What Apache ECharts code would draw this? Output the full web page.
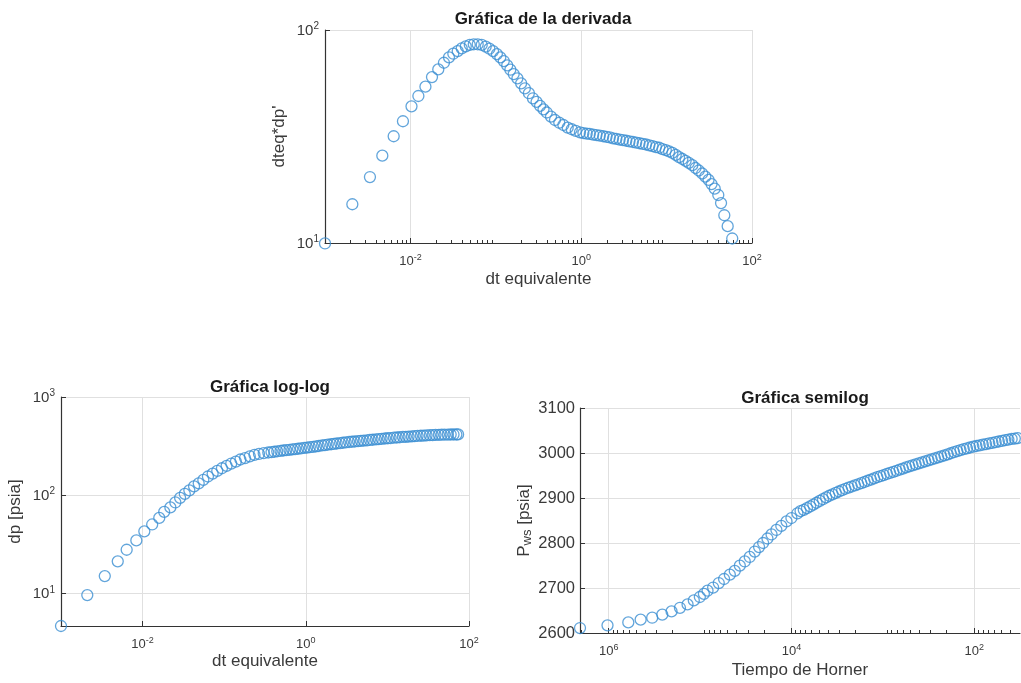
<!DOCTYPE html>
<html><head><meta charset="utf-8">
<script src="https://cdn.jsdelivr.net/npm/echarts@6/dist/echarts.min.js"></script>
<style>html,body{margin:0;padding:0;background:#fff}#c{width:1021px;height:683px}</style>
</head><body><div id="c"></div>
<script>
// ---- Gráfica de la derivada ----
const derivX = [0.00100, 0.00209, 0.00336, 0.00469, 0.00637, 0.00818, 0.0103, 0.0124, 0.0150, 0.0179, 0.0212, 0.0247, 0.0283, 0.0318, 0.0358, 0.0399, 0.0445, 0.0496, 0.0552, 0.0614, 0.0684, 0.0762, 0.0841, 0.0929, 0.103, 0.113, 0.124, 0.136, 0.148, 0.162, 0.179, 0.198, 0.219, 0.244, 0.272, 0.300, 0.330, 0.362, 0.395, 0.443, 0.493, 0.554, 0.618, 0.695, 0.774, 0.863, 0.968,
  1.06, 1.16, 1.26, 1.38, 1.51, 1.65, 1.81, 1.98, 2.16, 2.36, 2.58, 2.82, 3.08, 3.37, 3.68, 4.03, 4.40, 4.81, 5.25, 5.74, 6.28, 6.86, 7.50, 8.20, 8.95, 9.79, 10.7, 11.7, 12.8, 14.0, 15.3, 16.7, 18.2, 20.0, 21.8, 23.8, 26.1, 28.4,
  31.0, 33.6, 36.6, 40.3, 43.4, 47.4, 51.9, 58.7];
const derivY = [9.95, 15.2, 20.4, 25.7, 31.7, 37.3, 43.8, 49.0, 54.2, 60.1, 65.3, 70.2, 74.4, 77.4, 79.6, 82.0, 83.8, 85.1, 85.7, 85.7, 85.1, 83.6, 81.7, 79.6, 77.1, 74.4, 71.5, 68.2, 65.1, 62.1, 59.3, 56.2, 53.2, 50.5, 47.8, 46.0, 44.0, 42.4, 41.0, 39.2, 37.8, 36.7, 35.8, 34.8, 34.2, 33.6, 33.1,
  32.8, 32.6, 32.5, 32.3, 32.1, 31.9, 31.7, 31.5, 31.3, 31.0, 30.8, 30.6, 30.4, 30.2, 30.0, 29.8, 29.6, 29.4, 29.2, 29.0, 28.75, 28.5, 28.2, 28.0, 27.6, 27.3, 26.9, 26.5, 25.95, 25.3, 24.8, 24.3, 23.8, 23.2, 22.5, 21.9, 21.2, 20.5,
  19.8, 18.9, 18.0, 16.8, 15.4, 13.5, 12.0, 10.5];

// ---- Gráfica log-log ----
const dtLL = [0.001, 0.0021, 0.00344, 0.00496, 0.00638, 0.00838, 0.0105, 0.0131, 0.016, 0.0184, 0.0219, 0.0252, 0.0288, 0.0329, 0.0374, 0.0427, 0.0487, 0.0555, 0.0632, 0.0722, 0.0822, 0.0938, 0.107, 0.122, 0.139, 0.158, 0.180, 0.206, 0.235, 0.267, 0.305,
  0.347, 0.380, 0.412, 0.447, 0.490, 0.531, 0.575, 0.631, 0.684, 0.741, 0.804, 0.871, 0.955, 1.035, 1.122, 1.230, 1.334, 1.445, 1.585, 1.718, 1.862, 2.042, 2.213, 2.399, 2.630, 2.851, 3.090, 3.388, 3.673, 3.981, 4.365, 4.732, 5.129, 5.623, 6.095, 6.607, 7.244, 7.852, 8.511, 9.333, 10.12, 10.96, 12.02, 13.03, 14.13, 15.49, 16.79, 18.2, 19.95, 21.63, 23.44, 25.7, 27.86, 30.2, 33.1, 35.9, 38.9, 42.7, 46.2, 50.1, 55.0, 59.6, 64.6, 70.0, 73.5];
const dpLL = [4.65, 9.6, 15.0, 21.2, 27.8, 34.6, 42.8, 50.3, 58.7, 67.6, 75, 84.3, 93.9, 103, 112, 123, 132, 143, 155, 166, 177, 188, 199, 210, 220, 231, 239, 249, 257, 263, 268,
  272, 275, 277, 280, 283, 285, 288, 290, 293, 295, 297, 300, 303, 305, 308, 311, 314, 317, 321, 324, 327, 330, 333, 336, 339, 342, 345, 348, 350, 352, 355, 357, 360, 362, 365, 367, 370, 372, 375, 378, 380, 382, 385, 387, 389, 392, 393, 395, 397, 399, 401, 403, 405, 406, 408, 409, 411, 412, 413, 413, 414, 415, 415, 415, 416];

// ---- Gráfica semilog ----
const hornerX = [2.06e6, 1.03e6, 6.1e5, 4.47e5, 3.34e5, 2.59e5, 2.05e5, 1.66e5, 1.37e5, 1.17e5, 1.005e5, 9.08e4, 8.28e4, 7.19e4, 6.24e4, 5.46e4, 4.72e4, 4.17e4, 3.67e4, 3.24e4, 2.86e4, 2.52e4, 2.26e4, 2.04e4, 1.83e4, 1.65e4, 1.46e4, 1.29e4, 1.13e4, 1.0e4, 8.6e3,
  7943, 7328, 6761, 6237, 5754, 5309, 4898, 4519, 4169, 3846, 3548, 3273, 3020, 2786, 2570, 2371, 2188, 2018, 1862, 1718, 1585, 1462, 1349, 1245, 1148, 1059, 977, 902, 832, 767, 708, 653, 603, 556, 513, 473, 437, 403, 372, 343, 316, 292, 269, 248, 229, 211, 195, 180, 166, 153, 141, 130, 120, 111, 102, 94.4, 87.1, 80.4, 74.1, 68.4, 63.1, 58.2, 53.7, 49.5, 45.7, 42.2, 38.9, 35.9, 33.5];
const pwsY = [2611, 2617, 2623.6, 2629.6, 2634, 2640.7, 2648, 2656, 2663.6, 2672.4, 2680, 2687, 2694, 2701, 2711, 2720, 2729.6, 2738, 2749.6, 2759, 2769, 2781, 2791, 2800, 2810, 2819, 2829, 2838, 2848, 2855.5, 2866,
  2871, 2873.8, 2877.6, 2881.5, 2885.4, 2889.4, 2893.4, 2897.3, 2901.3, 2905, 2908.1, 2911.3, 2914.4, 2917.5, 2920.5, 2923, 2925.5, 2928, 2930.5, 2933, 2935.6, 2938.3, 2941, 2943.6, 2946.2, 2948.6, 2951, 2953.4, 2955.7, 2958.1, 2960.5, 2962.9, 2965.4, 2967.9, 2970.3, 2972.7, 2974.8, 2977, 2979.1, 2981.3, 2983.5, 2985.7, 2987.9, 2990.2, 2992.4, 2994.7, 2997.1, 2999.4, 3001.8, 3004.1, 3006.5, 3008.4, 3010.3, 3012.2, 3014, 3015.6, 3017, 3018.4, 3019.9, 3021.3, 3022.7, 3024.1, 3025.6, 3027, 3028.4, 3029.8, 3031.2, 3032.1, 3033];

// ---- tick values ----
const dtTicks = [0.01, 1, 100];
const derivTicksY = [10, 100];
const dpTicksY = [10, 100, 1000];
const hornerTicks = [1e2, 1e4, 1e6];
function minorTicks(lo, hi) {
  const out = [];
  for (let e = lo; e < hi; e++) for (let m = 2; m <= 9; m++) out.push(+(m * Math.pow(10, e)).toPrecision(6));
  return out;
}
const dtMinor = minorTicks(-3, 2);
const hornerMinor = minorTicks(1, 7);

const FONT = '"Liberation Sans", Arial, Helvetica, sans-serif';
const AX = '#333333';
const TXT = '#3a3a3a';
const GRID = '#e0e0e0';
const BLUE = '#3b8ed2';

function powLabel(v) {
  const e = Math.round(Math.log10(v));
  return '{b|10}{s|' + e + '}';
}
function powRich(base, sup, lift) {
  return {
    b: { fontSize: base, fontFamily: FONT, color: TXT, verticalAlign: 'bottom' },
    s: { fontSize: sup, fontFamily: FONT, color: TXT, verticalAlign: 'bottom', padding: [0, 0, lift, 0] }
  };
}
const axisLineS = { show: true, onZero: false, lineStyle: { color: AX, width: 1.2 } };
const tickS = (vals) => ({ show: true, inside: true, length: 5, lineStyle: { color: AX }, customValues: vals });
const splitS = { show: true, lineStyle: { color: GRID, width: 1 } };
const nameS = { fontSize: 17, fontFamily: FONT, color: TXT };

function logX(grid, min, max, vals, name, gap, inverse) {
  return {
    type: 'log', gridIndex: grid, min: min, max: max, inverse: !!inverse,
    name: name, nameLocation: 'middle', nameGap: gap, nameTextStyle: nameS,
    axisLine: axisLineS, axisTick: tickS(vals), splitLine: splitS,
    axisLabel: { customValues: vals, formatter: powLabel, rich: powRich(13, 9, 6), margin: 10 }
  };
}
function minorX(grid, min, max, vals, inverse) {
  return {
    type: 'log', gridIndex: grid, min: min, max: max, inverse: !!inverse, position: 'bottom',
    axisLine: { show: false }, splitLine: { show: false }, axisLabel: { show: false },
    axisTick: { show: true, inside: true, length: 3, lineStyle: { color: AX }, customValues: vals }
  };
}
function logY(grid, min, max, vals, name, gap) {
  return {
    type: 'log', gridIndex: grid, min: min, max: max,
    name: name, nameLocation: 'middle', nameGap: gap, nameTextStyle: nameS,
    axisLine: axisLineS, axisTick: tickS(vals), splitLine: splitS,
    axisLabel: { customValues: vals, formatter: powLabel, rich: powRich(15, 10, 7), margin: 6 }
  };
}
function scatter(xi, yi, xs, ys) {
  return {
    type: 'scatter', xAxisIndex: xi, yAxisIndex: yi, clip: false, silent: true,
    symbol: 'circle', symbolSize: 11,
    itemStyle: { color: 'rgba(0,0,0,0)', borderColor: BLUE, borderWidth: 1.3 },
    data: xs.map((x, i) => [x, ys[i]])
  };
}
const titleS = { fontSize: 17, fontWeight: 'bold', fontFamily: FONT, color: '#1a1a1a' };

const chart = echarts.init(document.getElementById('c'), null, { renderer: 'canvas' });
chart.setOption({
  animation: false,
  backgroundColor: '#ffffff',
  title: [
    { text: 'Gráfica de la derivada', left: 538, top: 6, textAlign: 'center', textStyle: titleS },
    { text: 'Gráfica log-log', left: 265, top: 374, textAlign: 'center', textStyle: titleS },
    { text: 'Gráfica semilog', left: 800, top: 385, textAlign: 'center', textStyle: titleS }
  ],
  grid: [
    { left: 325, right: 269, top: 30, bottom: 440 },
    { left: 61, right: 552, top: 397, bottom: 57 },
    { left: 580, right: 1, top: 408, bottom: 50 }
  ],
  xAxis: [
    logX(0, 0.001, 100, dtTicks, 'dt equivalente', 28),
    minorX(0, 0.001, 100, dtMinor),
    logX(1, 0.001, 100, dtTicks, 'dt equivalente', 27),
    logX(2, 31.5, 2.06e6, hornerTicks, 'Tiempo de Horner', 29, true),
    minorX(2, 31.5, 2.06e6, hornerMinor, true)
  ],
  yAxis: [
    logY(0, 10, 100, derivTicksY, "dteq*dp'", 37),
    logY(1, 4.65, 1000, dpTicksY, 'dp [psia]', 37),
    {
      type: 'value', gridIndex: 2, min: 2600, max: 3100, interval: 100,
      name: '{n|P}{sub|ws}{n| [psia]}', nameLocation: 'middle', nameGap: 45,
      nameTextStyle: Object.assign({}, nameS, { rich: {
        n: { fontSize: 17, fontFamily: FONT, color: TXT, verticalAlign: 'bottom', padding: [0, 0, 2, 0] },
        sub: { fontSize: 13, fontFamily: FONT, color: TXT, verticalAlign: 'bottom' } } }),
      axisLine: axisLineS, axisTick: { show: true, inside: true, length: 5, lineStyle: { color: AX } },
      splitLine: splitS,
      axisLabel: { fontSize: 16.5, fontFamily: FONT, color: TXT, margin: 5, formatter: (v) => String(v) }
    }
  ],
  series: [
    scatter(0, 0, derivX, derivY),
    scatter(2, 1, dtLL, dpLL),
    scatter(3, 2, hornerX, pwsY)
  ]
});
</script>
</body></html>
